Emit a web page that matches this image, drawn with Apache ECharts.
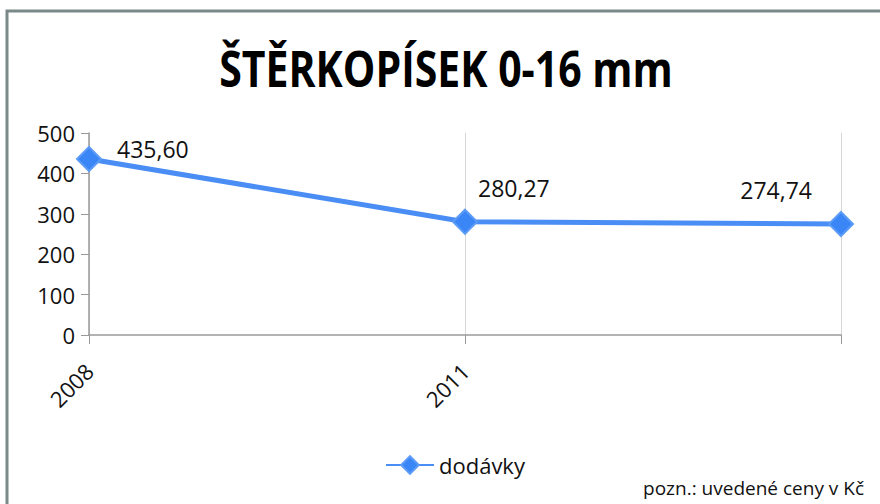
<!DOCTYPE html>
<html>
<head>
<meta charset="utf-8">
<script src="https://cdn.jsdelivr.net/npm/echarts@6/dist/echarts.min.js"></script>
<style>
  html, body { margin: 0; padding: 0; background: #fff; }
  #chart { width: 880px; height: 504px; }
</style>
</head>
<body>
<div id="chart"></div>
<script>
var years = ['2008', '2011', ''];
var dodavky = [435.60, 280.27, 274.74];
var labelText = ['435,60', '280,27', '274,74'];
var yTicks = [0, 100, 200, 300, 400, 500];

var blue = '#4a8ef5';
var axisGray = '#9a9a9a';
var font = '"Open Sans", "Noto Sans", sans-serif';

var chart = echarts.init(document.getElementById('chart'), null, { renderer: 'svg' });

// label placement per point, like the original
var labelOffsets = [[10, -10], [-5, -34], [-47, -34]];
var seriesData = dodavky.map(function (v, i) {
  return {
    value: v,
    label: {
      show: true,
      position: 'right',
      offset: labelOffsets[i],
      align: i === 2 ? 'right' : 'left',
      formatter: labelText[i],
      color: '#111',
      fontSize: 23,
      fontFamily: font
    }
  };
});

chart.setOption({
  animation: false,
  graphic: [
    {
      type: 'rect',
      shape: { x: 7, y: 11, width: 900, height: 520 },
      style: { fill: 'none', stroke: '#7b8a88', lineWidth: 3 }
    },
    {
      // condensed bold title (the original uses a narrow font)
      type: 'text',
      x: 446,
      y: 67,
      scaleX: 0.82,
      style: {
        text: 'ŠTĚRKOPÍSEK 0-16 mm',
        fontSize: 50,
        fontWeight: 'bold',
        fontFamily: font,
        fill: '#000',
        align: 'center',
        verticalAlign: 'middle'
      }
    },
    {
      type: 'text',
      right: 16,
      bottom: 7,
      style: { text: 'pozn.: uvedené ceny v Kč', fontSize: 19, fill: '#111', fontFamily: font }
    }
  ],
  legend: {
    data: ['dodávky'],
    left: 380,
    top: 449,
    itemWidth: 48,
    itemHeight: 22,
    textStyle: { fontSize: 22, color: '#111', fontFamily: font }
  },
  grid: { left: 89, right: 39, top: 133, bottom: 169 },
  xAxis: {
    type: 'category',
    data: years,
    boundaryGap: false,
    axisLine: { lineStyle: { color: axisGray, width: 1.5 } },
    axisTick: { show: true, length: 9, lineStyle: { color: axisGray } },
    axisLabel: { rotate: 45, fontSize: 22, color: '#111', fontFamily: font, margin: 32 },
    splitLine: { show: true, lineStyle: { color: '#d6d6d6', width: 1 } }
  },
  yAxis: {
    type: 'value',
    min: yTicks[0],
    max: yTicks[yTicks.length - 1],
    interval: 100,
    axisLine: { show: true, lineStyle: { color: axisGray, width: 1.5 } },
    axisTick: { show: true, length: 8, lineStyle: { color: axisGray } },
    axisLabel: { fontSize: 22, color: '#111', fontFamily: font, margin: 14 },
    splitLine: { show: false }
  },
  series: [
    {
      name: 'dodávky',
      type: 'line',
      data: seriesData,
      symbol: 'diamond',
      symbolSize: 24,
      lineStyle: { color: blue, width: 5 },
      itemStyle: { color: '#3a86f7', borderColor: '#5c9bf7', borderWidth: 2 }
    }
  ]
});
</script>
</body>
</html>
